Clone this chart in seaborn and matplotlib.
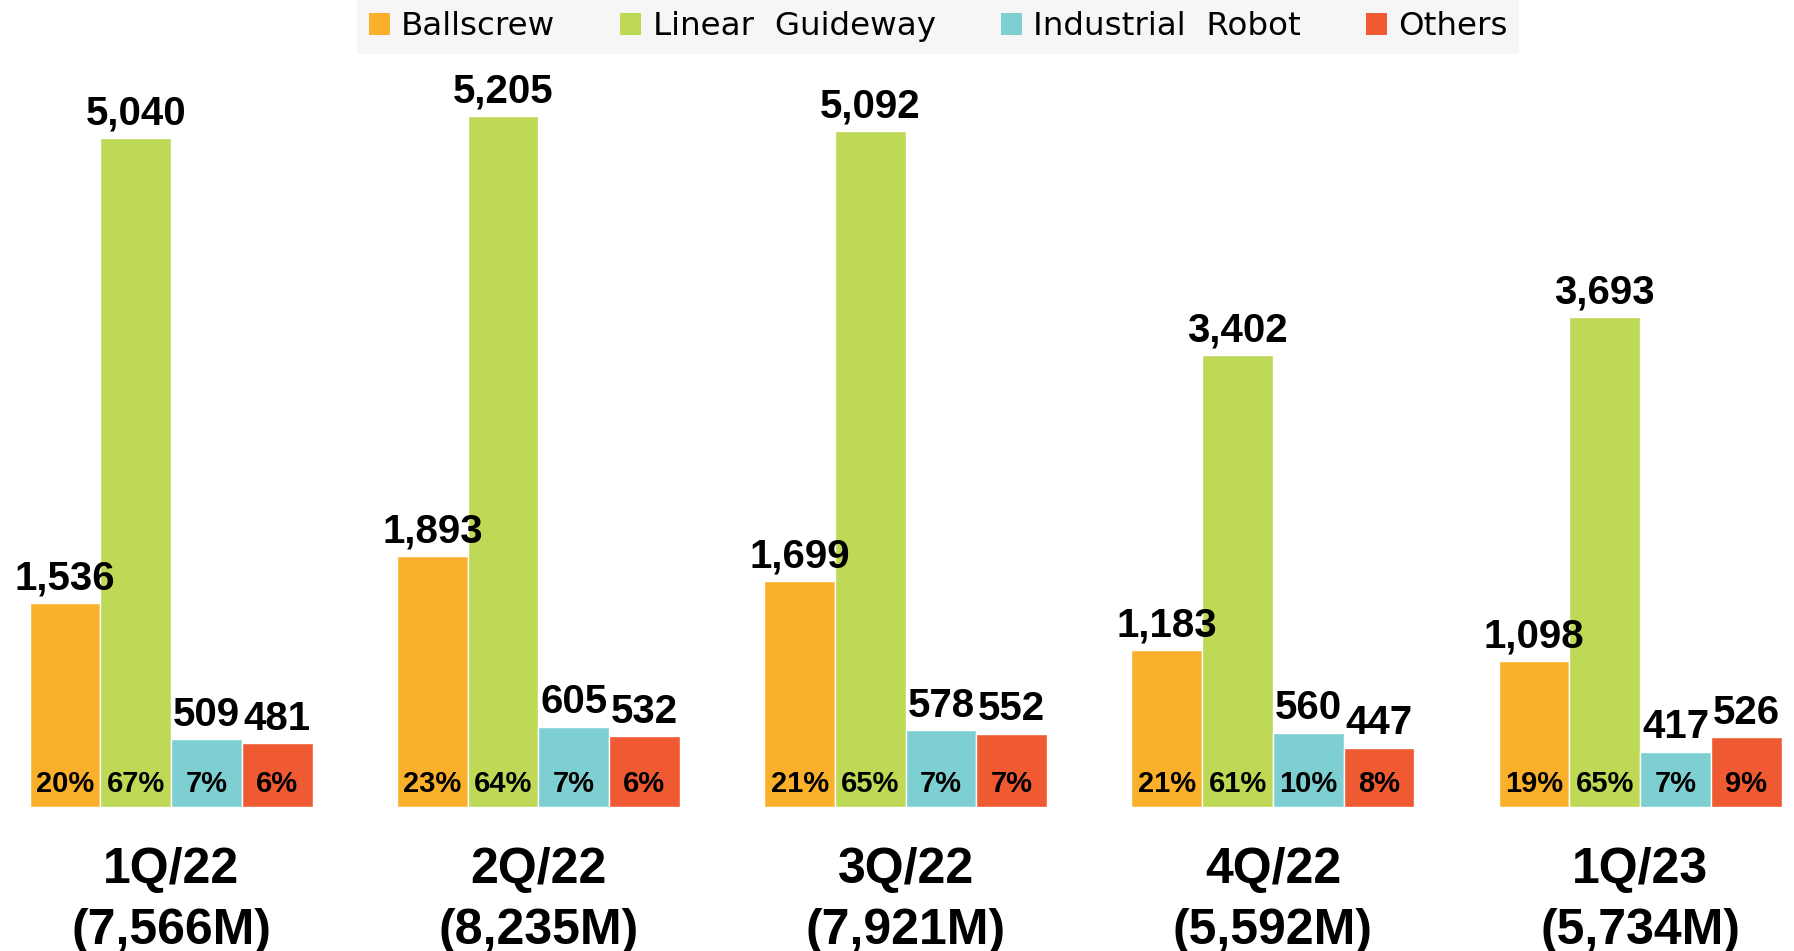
import matplotlib
matplotlib.use("Agg")
import matplotlib.pyplot as plt
import seaborn as sns
import pandas as pd
from matplotlib.patches import Patch

quarters = ["1Q/22", "2Q/22", "3Q/22", "4Q/22", "1Q/23"]
totals = [7566, 8235, 7921, 5592, 5734]
series = ["Ballscrew", "Linear  Guideway", "Industrial  Robot", "Others"]
ballscrew = [1536, 1893, 1699, 1183, 1098]
linear_guideway = [5040, 5205, 5092, 3402, 3693]
industrial_robot = [509, 605, 578, 560, 417]
others = [481, 532, 552, 447, 526]
pct_ballscrew = [20, 23, 21, 21, 19]
pct_linear = [67, 64, 65, 61, 65]
pct_robot = [7, 7, 7, 10, 7]
pct_others = [6, 6, 7, 8, 9]
colors = ["#FBB02B", "#BED956", "#7ECFD2", "#EF5A33"]

values = [ballscrew, linear_guideway, industrial_robot, others]
pcts = [pct_ballscrew, pct_linear, pct_robot, pct_others]

rows = []
for s, vals in zip(series, values):
    for q, v in zip(quarters, vals):
        rows.append({"quarter": q, "series": s, "value": v})
df = pd.DataFrame(rows)

sns.set_theme(style="white")
plt.rcParams["font.family"] = ["Liberation Sans", "DejaVu Sans"]
plt.rcParams["text.color"] = "black"
plt.rcParams["xtick.color"] = "black"

fig = plt.figure(figsize=(17.94, 9.51), dpi=100)
ax = fig.add_axes([0, 0.1514, 1, 0.8486])

sns.barplot(data=df, x="quarter", y="value", hue="series", hue_order=series,
            order=quarters, palette=colors, saturation=1, width=0.77,
            edgecolor="white", linewidth=1, legend=False, ax=ax, errorbar=None)

ax.set_xlim(-0.466, 4.419)
ax.set_ylim(0, 6077)
for sp in ax.spines.values():
    sp.set_visible(False)
ax.set_yticks([])
ax.set_ylabel("")
ax.set_xlabel("")
ax.set_xticks(range(len(quarters)))
ax.set_xticklabels([f"{q}\n({t:,}M)" for q, t in zip(quarters, totals)],
                   fontsize=36, fontweight="bold", linespacing=1.42, color="black")
ax.tick_params(axis="x", length=0, pad=29)

for cont, p in zip(ax.containers, pcts):
    ax.bar_label(cont, labels=[f"{v:,.0f}" for v in cont.datavalues],
                 padding=4, fontsize=29, fontweight="bold", color="black")
    for bar, pv in zip(cont, p):
        cx = bar.get_x() + bar.get_width() / 2
        ax.annotate(f"{pv}%", xy=(cx, 0), xytext=(0, 11), textcoords="offset points",
                    ha="center", va="baseline", fontsize=21, fontweight="bold",
                    color="black")

handles = [Patch(facecolor=c, edgecolor="none") for c in colors]
leg = fig.legend(handles, series, loc="upper center", bbox_to_anchor=(0.523, 1.0),
                 ncol=4, frameon=True, facecolor="#F6F6F6", edgecolor="none",
                 fancybox=False, framealpha=1,
                 prop={"family": "DejaVu Sans", "size": 23.4},
                 handlelength=0.65, handleheight=0.65, handletextpad=0.35,
                 columnspacing=2.0, borderpad=0.35, borderaxespad=0)
for t in leg.get_texts():
    t.set_color("black")

fig.savefig("out.png", dpi=100)
